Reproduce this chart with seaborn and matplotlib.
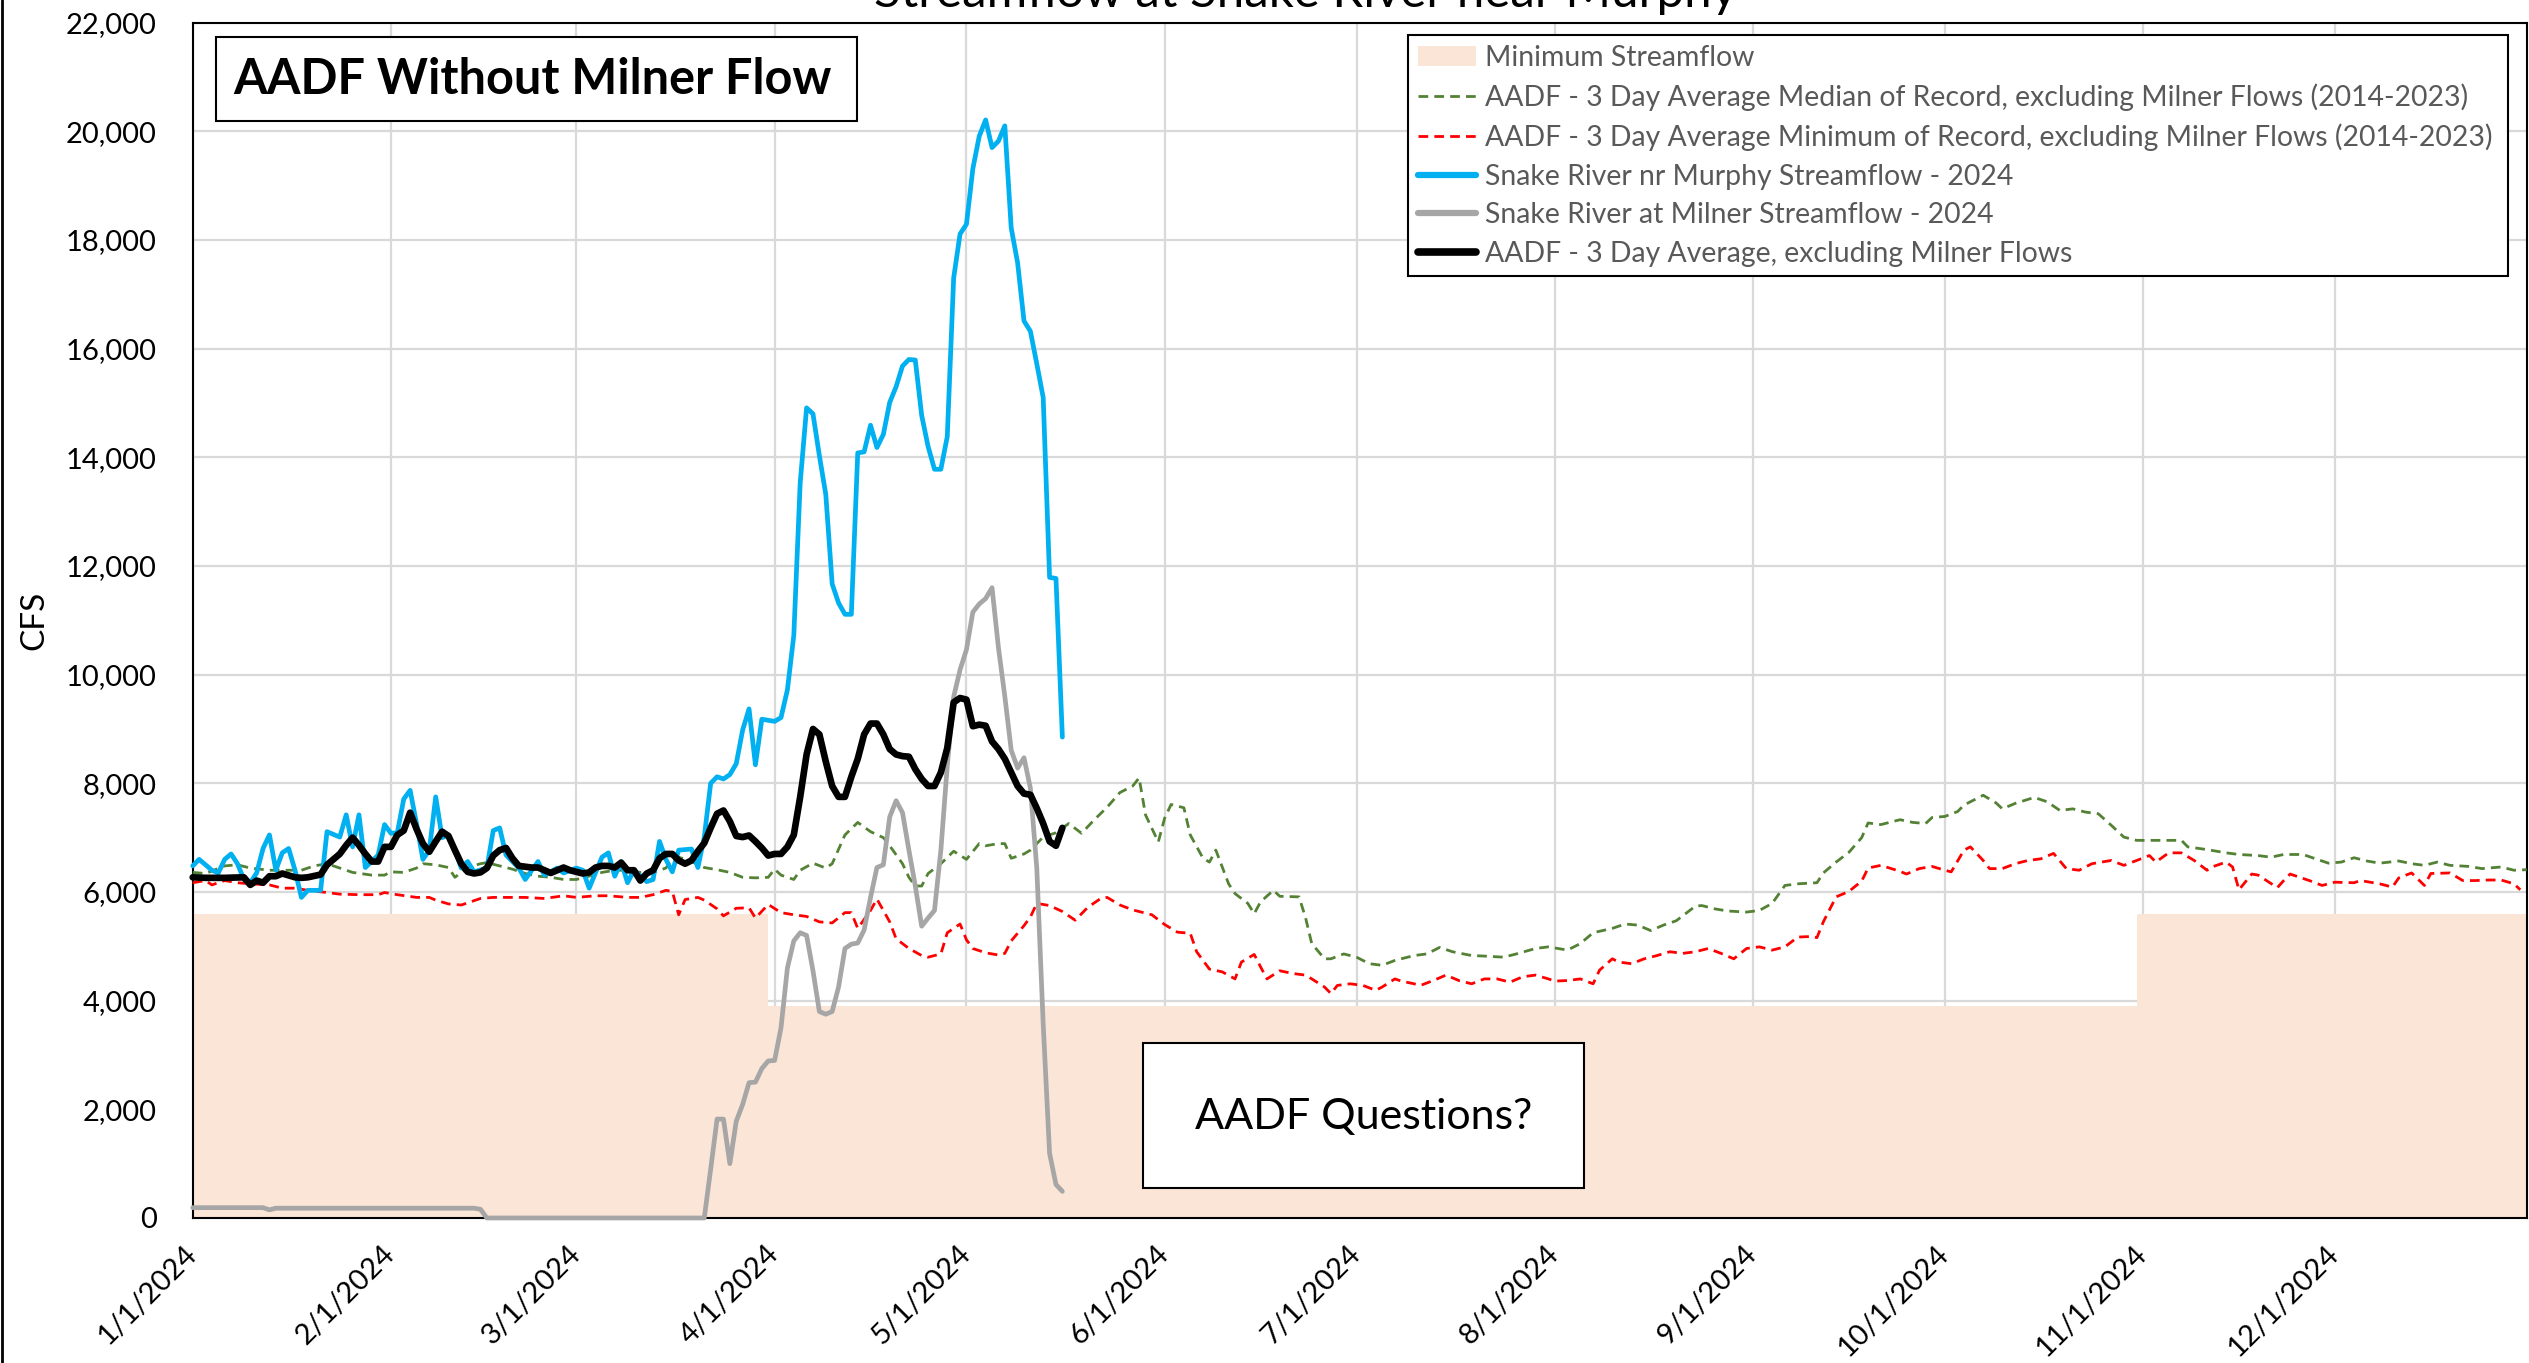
import pandas as pd
import matplotlib
matplotlib.use("Agg")
import matplotlib.pyplot as plt
import matplotlib.dates as mdates
import matplotlib.ticker as mticker
from matplotlib.patches import Rectangle, Patch
from matplotlib.lines import Line2D
import seaborn as sns

# 数据 (day = days after 1/1/2024, cfs)
minflow_date = ["2024-01-01", "2024-03-31", "2024-10-31", "2024-12-31"]
minflow_cfs = [5600, 3900, 5600, 5600]

median_pts = [
    (0, 6360), (2, 6340), (5, 6480), (7, 6500), (9, 6440), (12, 6400), (15, 6400), (17, 6400),
    (19, 6480), (21, 6520), (23, 6440), (25, 6360), (28, 6310), (30, 6310), (31, 6370), (33, 6360),
    (35, 6440), (36, 6520), (38, 6500), (40, 6450), (41, 6270), (42, 6360), (43, 6450), (45, 6520),
    (46, 6540), (48, 6480), (50, 6420), (52, 6340), (54, 6290), (56, 6270), (58, 6230), (60, 6230),
    (62, 6290), (64, 6360), (66, 6400), (68, 6400), (70, 6360), (72, 6360), (74, 6440), (75, 6600),
    (76, 6640), (78, 6560), (80, 6450), (82, 6410), (84, 6360), (86, 6270), (88, 6260), (90, 6270),
    (91, 6420), (92, 6310), (94, 6230), (95, 6400), (97, 6530), (99, 6440), (100, 6520), (102, 7050),
    (104, 7280), (106, 7110), (108, 7000), (109, 6850), (111, 6520), (112, 6270), (113, 6110),
    (114, 6110), (115, 6340), (117, 6520), (119, 6750), (121, 6600), (123, 6890), (124, 6850),
    (126, 6890), (127, 6890), (128, 6620), (130, 6700), (131, 6770), (133, 7010), (135, 7090),
    (137, 7260), (139, 7080), (141, 7330), (143, 7560), (145, 7830), (147, 7950), (148, 8100),
    (149, 7420), (151, 6920), (152, 7360), (153, 7610), (155, 7550), (156, 7050), (158, 6620),
    (159, 6550), (160, 6770), (162, 6150), (163, 5970), (165, 5790), (166, 5600), (167, 5820),
    (169, 6030), (170, 5920), (173, 5910), (174, 5540), (175, 5050), (177, 4770), (178, 4770),
    (180, 4860), (182, 4800), (184, 4680), (186, 4650), (188, 4740), (191, 4830), (193, 4860),
    (195, 4980), (197, 4900), (200, 4830), (202, 4820), (205, 4800), (207, 4860), (210, 4960),
    (212, 4990), (215, 4930), (217, 5050), (219, 5250), (222, 5330), (224, 5410), (226, 5390),
    (228, 5290), (230, 5390), (232, 5470), (235, 5740), (236, 5750), (238, 5690), (240, 5650),
    (243, 5630), (245, 5660), (247, 5790), (249, 6120), (251, 6150), (254, 6170), (255, 6350),
    (257, 6550), (259, 6730), (261, 7000), (262, 7270), (264, 7240), (267, 7330), (269, 7280),
    (271, 7260), (272, 7370), (274, 7390), (276, 7480), (277, 7600), (279, 7720), (280, 7780),
    (282, 7640), (283, 7530), (285, 7630), (288, 7740), (290, 7660), (292, 7500), (294, 7530),
    (296, 7470), (298, 7440), (300, 7230), (302, 7010), (304, 6950), (307, 6950), (309, 6950),
    (311, 6950), (312, 6830), (315, 6780), (318, 6720), (320, 6690), (323, 6670), (325, 6640),
    (327, 6690), (330, 6690), (332, 6610), (334, 6530), (336, 6550), (338, 6630), (340, 6570),
    (342, 6530), (345, 6570), (347, 6520), (349, 6490), (351, 6550), (353, 6490), (356, 6470),
    (358, 6430), (361, 6460), (363, 6400), (365, 6410),
]

minrec_pts = [
    (0, 6170), (2, 6210), (3, 6130), (5, 6210), (7, 6170), (9, 6150), (12, 6130), (14, 6070),
    (16, 6070), (18, 6030), (21, 5990), (23, 5960), (26, 5950), (29, 5950), (30, 5990), (32, 5950),
    (35, 5900), (37, 5900), (38, 5850), (40, 5780), (42, 5760), (43, 5800), (45, 5880), (47, 5900),
    (49, 5900), (52, 5900), (55, 5880), (58, 5930), (60, 5900), (63, 5930), (65, 5930), (68, 5900),
    (70, 5900), (72, 5950), (74, 6030), (75, 6010), (76, 5580), (77, 5860), (79, 5900), (80, 5850),
    (82, 5690), (83, 5560), (85, 5700), (87, 5710), (88, 5520), (90, 5770), (92, 5620), (94, 5580),
    (96, 5550), (98, 5450), (100, 5430), (102, 5620), (103, 5620), (104, 5330), (106, 5660),
    (107, 5870), (109, 5450), (110, 5140), (112, 4960), (114, 4830), (115, 4800), (117, 4860),
    (118, 5250), (120, 5410), (121, 5120), (122, 4960), (124, 4880), (126, 4840), (127, 4870),
    (128, 5100), (130, 5380), (131, 5540), (132, 5790), (134, 5750), (136, 5640), (138, 5480),
    (140, 5720), (142, 5880), (143, 5900), (145, 5760), (147, 5670), (149, 5610), (150, 5580),
    (152, 5400), (154, 5260), (156, 5240), (157, 4900), (159, 4580), (161, 4530), (163, 4400),
    (164, 4710), (166, 4850), (167, 4620), (168, 4400), (170, 4550), (172, 4500), (174, 4470),
    (175, 4400), (177, 4250), (178, 4130), (179, 4280), (181, 4310), (183, 4280), (185, 4190),
    (186, 4250), (188, 4400), (189, 4360), (191, 4310), (192, 4280), (194, 4370), (196, 4470),
    (198, 4370), (200, 4310), (202, 4400), (204, 4400), (206, 4340), (208, 4440), (210, 4470),
    (212, 4400), (213, 4360), (215, 4370), (217, 4400), (219, 4310), (220, 4560), (222, 4770),
    (223, 4710), (225, 4680), (227, 4770), (229, 4830), (231, 4900), (233, 4870), (235, 4900),
    (237, 4960), (239, 4870), (241, 4770), (243, 4960), (245, 4990), (247, 4930), (249, 4990),
    (251, 5170), (253, 5180), (254, 5160), (255, 5450), (257, 5910), (259, 6010), (261, 6200),
    (262, 6440), (264, 6490), (267, 6380), (268, 6330), (270, 6430), (272, 6470), (274, 6400),
    (275, 6370), (277, 6770), (278, 6830), (280, 6580), (281, 6430), (283, 6430), (285, 6520),
    (287, 6580), (289, 6610), (291, 6710), (293, 6430), (295, 6400), (297, 6520), (300, 6580),
    (302, 6490), (304, 6580), (306, 6670), (307, 6550), (309, 6720), (311, 6720), (313, 6580),
    (315, 6400), (316, 6470), (318, 6550), (319, 6460), (320, 6040), (322, 6330), (323, 6310),
    (326, 6080), (327, 6210), (328, 6330), (331, 6210), (333, 6120), (335, 6180), (338, 6170),
    (339, 6210), (342, 6150), (344, 6090), (345, 6260), (347, 6350), (349, 6120), (350, 6340),
    (353, 6350), (355, 6210), (357, 6210), (359, 6220), (361, 6220), (363, 6150), (364, 6040),
]

murphy_pts = [
    (0, 6480), (1, 6600), (3, 6400), (4, 6350), (5, 6600), (6, 6700), (7, 6520), (8, 6230),
    (9, 6170), (10, 6350), (11, 6800), (12, 7050), (13, 6400), (14, 6720), (15, 6800), (16, 6400),
    (17, 5900), (18, 6030), (20, 6030), (21, 7110), (23, 7010), (24, 7420), (25, 6830), (26, 7420),
    (27, 6450), (29, 6680), (30, 7240), (31, 7080), (32, 7090), (33, 7710), (34, 7870), (35, 7260),
    (36, 6600), (37, 6770), (38, 7750), (39, 7000), (40, 7050), (41, 6770), (42, 6440), (43, 6560),
    (44, 6370), (46, 6440), (47, 7130), (48, 7180), (49, 6680), (51, 6440), (52, 6230), (54, 6560),
    (55, 6310), (57, 6440), (58, 6350), (60, 6440), (61, 6400), (62, 6070), (64, 6640), (65, 6720),
    (66, 6290), (67, 6560), (68, 6170), (69, 6400), (71, 6190), (72, 6230), (73, 6930), (74, 6600),
    (75, 6370), (76, 6770), (78, 6790), (79, 6450), (80, 7010), (81, 8000), (82, 8120), (83, 8080),
    (84, 8160), (85, 8360), (86, 8980), (87, 9370), (88, 8340), (89, 9180), (90, 9160), (91, 9140),
    (92, 9210), (93, 9720), (94, 10720), (95, 13530), (96, 14910), (97, 14800), (98, 14030),
    (99, 13320), (100, 11670), (101, 11320), (102, 11110), (103, 11110), (104, 14080), (105, 14100),
    (106, 14590), (107, 14180), (108, 14420), (109, 15010), (110, 15300), (111, 15680), (112, 15800),
    (113, 15790), (114, 14770), (115, 14200), (116, 13780), (117, 13780), (118, 14380), (119, 17300),
    (120, 18110), (121, 18290), (122, 19310), (123, 19910), (124, 20210), (125, 19700), (126, 19820),
    (127, 20100), (128, 18220), (129, 17580), (130, 16510), (131, 16320), (132, 15720), (133, 15100),
    (134, 11790), (135, 11770), (136, 8850),
]

milner_pts = [
    (0, 190), (11, 190), (12, 150), (13, 180), (44, 180), (45, 160), (46, 0), (80, 0), (81, 900),
    (82, 1820), (83, 1820), (84, 1000), (85, 1780), (86, 2090), (87, 2490), (88, 2500), (89, 2750),
    (90, 2890), (91, 2900), (92, 3500), (93, 4600), (94, 5100), (95, 5250), (96, 5200), (97, 4550),
    (98, 3800), (99, 3750), (100, 3800), (101, 4250), (102, 4960), (103, 5040), (104, 5060),
    (105, 5300), (106, 5900), (107, 6450), (108, 6500), (109, 7380), (110, 7680), (111, 7460),
    (112, 6770), (113, 6110), (114, 5370), (115, 5520), (116, 5660), (117, 6770), (118, 8320),
    (119, 9590), (120, 10090), (121, 10460), (122, 11150), (123, 11300), (124, 11400), (125, 11600),
    (126, 10500), (127, 9600), (128, 8610), (129, 8280), (130, 8470), (131, 7910), (132, 6440),
    (133, 3570), (134, 1190), (135, 615), (136, 490),
]

aadf_pts = [
    (0, 6270), (2, 6260), (5, 6260), (8, 6270), (9, 6130), (10, 6210), (11, 6170), (12, 6290),
    (13, 6290), (14, 6340), (16, 6270), (17, 6260), (18, 6270), (20, 6320), (21, 6500), (23, 6700),
    (24, 6860), (25, 7000), (26, 6860), (27, 6700), (28, 6560), (29, 6560), (30, 6830), (31, 6830),
    (32, 7050), (33, 7130), (34, 7460), (35, 7160), (36, 6890), (37, 6740), (38, 6930), (39, 7110),
    (40, 7030), (41, 6770), (42, 6520), (43, 6370), (44, 6340), (45, 6360), (46, 6440), (47, 6670),
    (48, 6770), (49, 6810), (50, 6620), (51, 6480), (53, 6450), (54, 6450), (55, 6400), (56, 6350),
    (57, 6400), (58, 6450), (59, 6400), (61, 6340), (62, 6360), (63, 6450), (64, 6480), (65, 6480),
    (66, 6450), (67, 6540), (68, 6400), (69, 6400), (70, 6210), (71, 6340), (72, 6400), (73, 6620),
    (74, 6700), (75, 6700), (76, 6580), (77, 6520), (78, 6580), (79, 6750), (80, 6900), (81, 7180),
    (82, 7440), (83, 7500), (84, 7300), (85, 7030), (86, 7010), (87, 7040), (88, 6930), (89, 6810),
    (90, 6670), (91, 6700), (92, 6700), (93, 6830), (94, 7050), (95, 7750), (96, 8530), (97, 9000),
    (98, 8900), (99, 8400), (100, 7950), (101, 7750), (102, 7750), (103, 8120), (104, 8450),
    (105, 8900), (106, 9100), (107, 9100), (108, 8900), (109, 8630), (110, 8530), (111, 8500),
    (112, 8490), (113, 8260), (114, 8080), (115, 7950), (116, 7950), (117, 8200), (118, 8650),
    (119, 9490), (120, 9570), (121, 9540), (122, 9050), (123, 9080), (124, 9060), (125, 8770),
    (126, 8630), (127, 8450), (128, 8200), (129, 7950), (130, 7810), (131, 7790), (132, 7540),
    (133, 7260), (134, 6930), (135, 6850), (136, 7180),
]

labels = [
    "Minimum Streamflow",
    "AADF - 3 Day Average Median of Record, excluding Milner Flows (2014-2023)",
    "AADF - 3 Day Average Minimum of Record, excluding Milner Flows (2014-2023)",
    "Snake River nr Murphy Streamflow - 2024",
    "Snake River at Milner Streamflow - 2024",
    "AADF - 3 Day Average, excluding Milner Flows",
]

start = pd.Timestamp("2024-01-01")


def to_frame(pts):
    df = pd.DataFrame(pts, columns=["day", "cfs"])
    df["date"] = start + pd.to_timedelta(df["day"], unit="D")
    return df


sns.set_theme(style="white")
plt.rcParams["font.family"] = ["Lato", "DejaVu Sans"]

FILL = "#FBE5D6"
GREEN = "#548235"
RED = "#FF0000"
BLUE = "#00B0F0"
GRAY = "#A6A6A6"
DASH = (0, (3.5, 2.2))

fig = plt.figure(figsize=(25.29, 13.63), dpi=100)
ax = fig.add_axes([0.0762, 0.1064, 0.9229, 0.8770])

# 最小流量区域
mf = pd.DataFrame({"date": pd.to_datetime(minflow_date), "cfs": minflow_cfs})
ax.fill_between(mf["date"], mf["cfs"], step="post", color=FILL, lw=0, zorder=1)

# 各条曲线
series = [
    (median_pts, GREEN, 2.0, DASH, 3.0),
    (minrec_pts, RED, 2.0, DASH, 3.1),
    (murphy_pts, BLUE, 3.4, "-", 3.2),
    (milner_pts, GRAY, 3.4, "-", 3.3),
    (aadf_pts, "black", 4.8, "-", 3.4),
]
for pts, col, lw, ls, z in series:
    sns.lineplot(data=to_frame(pts), x="date", y="cfs", ax=ax, color=col, linewidth=lw,
                 linestyle=ls, estimator=None, zorder=z)
    ax.lines[-1].set_clip_on(False)

ax.set_xlim(pd.Timestamp("2024-01-01"), pd.Timestamp("2024-12-31"))
ax.set_ylim(0, 22000)
ax.yaxis.set_major_locator(mticker.MultipleLocator(2000))
ax.yaxis.set_major_formatter(mticker.StrMethodFormatter("{x:,.0f}"))
ax.xaxis.set_major_locator(mdates.MonthLocator())
ax.xaxis.set_major_formatter(mdates.DateFormatter("%-m/%-d/%Y"))

ax.grid(True, color="#D9D9D9", lw=1.6)
ax.set_axisbelow(True)
for sp in ax.spines.values():
    sp.set_color("black")
    sp.set_linewidth(1.5)

ax.tick_params(axis="y", length=0, pad=26, labelsize=21, labelcolor="black")
ax.tick_params(axis="x", direction="in", length=6.5, width=1.5, color="black",
               pad=23, labelsize=21, labelcolor="black")
plt.setp(ax.get_xticklabels(), rotation=45, ha="right", va="center", rotation_mode="anchor")

ax.set_xlabel("")
ax.set_ylabel("CFS", fontsize=24, color="black")
ax.yaxis.set_label_coords(-0.0616, 0.5)

# 图例
handles = [
    Patch(facecolor=FILL, edgecolor="none"),
    Line2D([], [], color=GREEN, lw=2.0, ls=DASH),
    Line2D([], [], color=RED, lw=2.0, ls=DASH),
    Line2D([], [], color=BLUE, lw=4.5),
    Line2D([], [], color=GRAY, lw=4.5),
    Line2D([], [], color="black", lw=5.5),
]
leg = ax.legend(handles, labels, loc="upper left", bbox_to_anchor=(0.5207, 0.7889, 0.4713, 0.2007),
                mode="expand", borderaxespad=0, fontsize=20.4, labelcolor="#595959",
                frameon=True, fancybox=False, framealpha=1, edgecolor="black",
                handlelength=2.05, handletextpad=0.3, labelspacing=0.44, borderpad=0.35)
leg.get_frame().set_linewidth(1.5)
leg.set_zorder(8)

# 文本框
ax.add_patch(Rectangle((0.0098, 0.9179), 0.2746, 0.0703, transform=ax.transAxes,
                       facecolor="white", edgecolor="black", lw=1.5, zorder=6))
ax.text(0.1456, 0.9528, "AADF Without Milner Flow", transform=ax.transAxes, ha="center",
        va="center", fontsize=35, fontweight="bold", color="black", zorder=7)
ax.add_patch(Rectangle((0.4070, 0.0251), 0.1891, 0.1215, transform=ax.transAxes,
                       facecolor="white", edgecolor="black", lw=1.5, zorder=6))
ax.text(0.5016, 0.0847, "AADF Questions?", transform=ax.transAxes, ha="center",
        va="center", fontsize=31, color="black", zorder=7)

# 标题 (参考图中标题上半部分被裁掉)
fig.text(0.5164, 0.9949, "Streamflow at Snake River near Murphy", ha="center", va="baseline",
         fontsize=35.5, color="black")
fig.add_artist(Line2D([0.0006, 0.0006], [0, 1], transform=fig.transFigure, color="black", lw=2))

fig.savefig("out.png", dpi=100)
